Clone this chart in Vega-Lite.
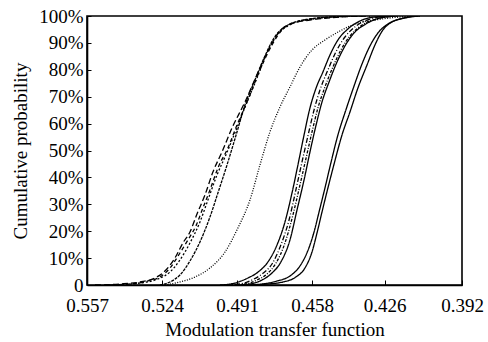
{
  "$schema": "https://vega.github.io/schema/vega-lite/v6.json",
  "width": 375,
  "height": 269,
  "autosize": {"type": "none"},
  "padding": {"left": 87, "top": 16, "right": 26, "bottom": 57},
  "background": "white",
  "config": {
    "view": {"stroke": "black", "strokeWidth": 1.6},
    "font": "Liberation Serif"
  },
  "data": {
    "values": [
      {"c":"A1","x":0.5535,"y":0},{"c":"A1","x":0.5425,"y":0.0037},{"c":"A1","x":0.5337,"y":0.0112},{"c":"A1","x":0.5271,"y":0.026},{"c":"A1","x":0.5227,"y":0.052},{"c":"A1","x":0.5183,"y":0.1004},{"c":"A1","x":0.5148,"y":0.1561},{"c":"A1","x":0.5117,"y":0.197},{"c":"A1","x":0.5086,"y":0.2639},{"c":"A1","x":0.5051,"y":0.3346},{"c":"A1","x":0.5016,"y":0.4201},{"c":"A1","x":0.4976,"y":0.4944},{"c":"A1","x":0.4932,"y":0.5836},{"c":"A1","x":0.4875,"y":0.6803},{"c":"A1","x":0.4817,"y":0.7918},{"c":"A1","x":0.4765,"y":0.8848},{"c":"A1","x":0.4721,"y":0.9442},{"c":"A1","x":0.4664,"y":0.974},{"c":"A1","x":0.4589,"y":0.9851},{"c":"A1","x":0.4457,"y":0.9963},{"c":"A1","x":0.4325,"y":1},
      {"c":"A2","x":0.5491,"y":0},{"c":"A2","x":0.5381,"y":0.0037},{"c":"A2","x":0.5302,"y":0.0149},{"c":"A2","x":0.5249,"y":0.0297},{"c":"A2","x":0.5205,"y":0.0632},{"c":"A2","x":0.5161,"y":0.119},{"c":"A2","x":0.5126,"y":0.1673},{"c":"A2","x":0.5091,"y":0.2193},{"c":"A2","x":0.506,"y":0.2862},{"c":"A2","x":0.5029,"y":0.3532},{"c":"A2","x":0.4994,"y":0.4349},{"c":"A2","x":0.495,"y":0.5093},{"c":"A2","x":0.491,"y":0.5948},{"c":"A2","x":0.4862,"y":0.6877},{"c":"A2","x":0.4809,"y":0.7993},{"c":"A2","x":0.4756,"y":0.8922},{"c":"A2","x":0.4708,"y":0.9517},{"c":"A2","x":0.4646,"y":0.9777},{"c":"A2","x":0.4545,"y":0.9926},{"c":"A2","x":0.4369,"y":1},
      {"c":"A3","x":0.5469,"y":0},{"c":"A3","x":0.5337,"y":0.0074},{"c":"A3","x":0.5258,"y":0.0223},{"c":"A3","x":0.5205,"y":0.0483},{"c":"A3","x":0.5161,"y":0.0929},{"c":"A3","x":0.5117,"y":0.1561},{"c":"A3","x":0.5073,"y":0.2342},{"c":"A3","x":0.5038,"y":0.316},{"c":"A3","x":0.4998,"y":0.4089},{"c":"A3","x":0.4959,"y":0.4833},{"c":"A3","x":0.4914,"y":0.5762},{"c":"A3","x":0.4871,"y":0.6691},{"c":"A3","x":0.4822,"y":0.7695},{"c":"A3","x":0.4782,"y":0.855},{"c":"A3","x":0.4738,"y":0.9257},{"c":"A3","x":0.4686,"y":0.9628},{"c":"A3","x":0.4611,"y":0.9851},{"c":"A3","x":0.4479,"y":0.9963},{"c":"A3","x":0.4347,"y":1},
      {"c":"B","x":0.5249,"y":0},{"c":"B","x":0.5205,"y":0.0112},{"c":"B","x":0.5161,"y":0.0372},{"c":"B","x":0.5117,"y":0.0892},{"c":"B","x":0.5073,"y":0.1599},{"c":"B","x":0.5029,"y":0.2528},{"c":"B","x":0.4994,"y":0.342},{"c":"B","x":0.4954,"y":0.4461},{"c":"B","x":0.4914,"y":0.5576},{"c":"B","x":0.4875,"y":0.6691},{"c":"B","x":0.4831,"y":0.7621},{"c":"B","x":0.4791,"y":0.8439},{"c":"B","x":0.4747,"y":0.9182},{"c":"B","x":0.4686,"y":0.9665},{"c":"B","x":0.4589,"y":0.9888},{"c":"B","x":0.4413,"y":1},
      {"c":"C","x":0.5227,"y":0},{"c":"C","x":0.5161,"y":0.0112},{"c":"C","x":0.5095,"y":0.0297},{"c":"C","x":0.5029,"y":0.0632},{"c":"C","x":0.4963,"y":0.1227},{"c":"C","x":0.4906,"y":0.2119},{"c":"C","x":0.4853,"y":0.316},{"c":"C","x":0.4809,"y":0.4461},{"c":"C","x":0.4765,"y":0.5688},{"c":"C","x":0.4721,"y":0.6617},{"c":"C","x":0.4677,"y":0.7361},{"c":"C","x":0.4633,"y":0.8104},{"c":"C","x":0.458,"y":0.8736},{"c":"C","x":0.4523,"y":0.9108},{"c":"C","x":0.4457,"y":0.9442},{"c":"C","x":0.4391,"y":0.9703},{"c":"C","x":0.4303,"y":0.9851},{"c":"C","x":0.4193,"y":0.9963},{"c":"C","x":0.4105,"y":1},
      {"c":"D1","x":0.4985,"y":0},{"c":"D1","x":0.4919,"y":0.0074},{"c":"D1","x":0.4862,"y":0.026},{"c":"D1","x":0.4817,"y":0.0483},{"c":"D1","x":0.4774,"y":0.0855},{"c":"D1","x":0.4734,"y":0.1487},{"c":"D1","x":0.4699,"y":0.2342},{"c":"D1","x":0.4668,"y":0.342},{"c":"D1","x":0.4642,"y":0.4461},{"c":"D1","x":0.4615,"y":0.5576},{"c":"D1","x":0.4589,"y":0.658},{"c":"D1","x":0.4562,"y":0.7323},{"c":"D1","x":0.4532,"y":0.7918},{"c":"D1","x":0.4501,"y":0.855},{"c":"D1","x":0.4466,"y":0.9108},{"c":"D1","x":0.4422,"y":0.9517},{"c":"D1","x":0.4369,"y":0.9814},{"c":"D1","x":0.4303,"y":0.9963},{"c":"D1","x":0.4215,"y":1},
      {"c":"D2","x":0.4963,"y":0},{"c":"D2","x":0.4897,"y":0.0037},{"c":"D2","x":0.4844,"y":0.0186},{"c":"D2","x":0.48,"y":0.0409},{"c":"D2","x":0.4756,"y":0.0781},{"c":"D2","x":0.4717,"y":0.1487},{"c":"D2","x":0.4681,"y":0.2416},{"c":"D2","x":0.4651,"y":0.3532},{"c":"D2","x":0.4624,"y":0.4572},{"c":"D2","x":0.4597,"y":0.5576},{"c":"D2","x":0.4571,"y":0.6506},{"c":"D2","x":0.4545,"y":0.7249},{"c":"D2","x":0.451,"y":0.7993},{"c":"D2","x":0.4475,"y":0.8662},{"c":"D2","x":0.4435,"y":0.9219},{"c":"D2","x":0.4386,"y":0.9628},{"c":"D2","x":0.4325,"y":0.9888},{"c":"D2","x":0.4237,"y":1},
      {"c":"D3","x":0.4941,"y":0},{"c":"D3","x":0.4875,"y":0.0037},{"c":"D3","x":0.4822,"y":0.0186},{"c":"D3","x":0.4778,"y":0.0409},{"c":"D3","x":0.4738,"y":0.0818},{"c":"D3","x":0.4699,"y":0.1561},{"c":"D3","x":0.4664,"y":0.2602},{"c":"D3","x":0.4633,"y":0.3717},{"c":"D3","x":0.4606,"y":0.4721},{"c":"D3","x":0.458,"y":0.5688},{"c":"D3","x":0.4554,"y":0.658},{"c":"D3","x":0.4523,"y":0.7361},{"c":"D3","x":0.4488,"y":0.8104},{"c":"D3","x":0.4453,"y":0.8736},{"c":"D3","x":0.4413,"y":0.9257},{"c":"D3","x":0.436,"y":0.9665},{"c":"D3","x":0.4294,"y":0.9888},{"c":"D3","x":0.4215,"y":1},
      {"c":"D4","x":0.4919,"y":0},{"c":"D4","x":0.4853,"y":0.0037},{"c":"D4","x":0.48,"y":0.0186},{"c":"D4","x":0.4756,"y":0.0446},{"c":"D4","x":0.4717,"y":0.0855},{"c":"D4","x":0.4677,"y":0.1673},{"c":"D4","x":0.4646,"y":0.2788},{"c":"D4","x":0.4615,"y":0.3903},{"c":"D4","x":0.4589,"y":0.4944},{"c":"D4","x":0.4562,"y":0.5948},{"c":"D4","x":0.4536,"y":0.6803},{"c":"D4","x":0.4505,"y":0.7546},{"c":"D4","x":0.447,"y":0.829},{"c":"D4","x":0.4435,"y":0.8885},{"c":"D4","x":0.4395,"y":0.9368},{"c":"D4","x":0.4343,"y":0.9703},{"c":"D4","x":0.4281,"y":0.9926},{"c":"D4","x":0.4202,"y":1},
      {"c":"E1","x":0.4875,"y":0},{"c":"E1","x":0.48,"y":0.0037},{"c":"E1","x":0.4734,"y":0.0149},{"c":"E1","x":0.4677,"y":0.0335},{"c":"E1","x":0.4633,"y":0.0706},{"c":"E1","x":0.4597,"y":0.1301},{"c":"E1","x":0.4571,"y":0.197},{"c":"E1","x":0.4549,"y":0.2714},{"c":"E1","x":0.4523,"y":0.3606},{"c":"E1","x":0.4497,"y":0.4535},{"c":"E1","x":0.4466,"y":0.5576},{"c":"E1","x":0.4431,"y":0.6506},{"c":"E1","x":0.4395,"y":0.7398},{"c":"E1","x":0.436,"y":0.8216},{"c":"E1","x":0.4325,"y":0.8885},{"c":"E1","x":0.429,"y":0.9368},{"c":"E1","x":0.4246,"y":0.9703},{"c":"E1","x":0.4193,"y":0.9888},{"c":"E1","x":0.4127,"y":1},
      {"c":"E2","x":0.4853,"y":0},{"c":"E2","x":0.4774,"y":0.0037},{"c":"E2","x":0.4708,"y":0.0112},{"c":"E2","x":0.4651,"y":0.0297},{"c":"E2","x":0.4611,"y":0.0632},{"c":"E2","x":0.458,"y":0.1227},{"c":"E2","x":0.4558,"y":0.1933},{"c":"E2","x":0.4536,"y":0.2714},{"c":"E2","x":0.451,"y":0.3606},{"c":"E2","x":0.4484,"y":0.4461},{"c":"E2","x":0.4448,"y":0.5576},{"c":"E2","x":0.4413,"y":0.6431},{"c":"E2","x":0.4378,"y":0.7323},{"c":"E2","x":0.4338,"y":0.8178},{"c":"E2","x":0.4303,"y":0.8922},{"c":"E2","x":0.4268,"y":0.948},{"c":"E2","x":0.4228,"y":0.9777},{"c":"E2","x":0.4171,"y":0.9926},{"c":"E2","x":0.4105,"y":1}
    ]
  },
  "mark": {"type": "line", "interpolate": "monotone", "color": "black", "strokeWidth": 1.3, "clip": true},
  "encoding": {
    "x": {
      "field": "x",
      "type": "quantitative",
      "scale": {"domain": [0.392, 0.557], "reverse": true, "nice": false, "zero": false},
      "axis": {
        "title": "Modulation transfer function",
        "values": [0.557, 0.524, 0.491, 0.458, 0.426, 0.392],
        "format": ".3f",
        "grid": false,
        "domainColor": "black",
        "domainWidth": 1.6,
        "tickColor": "black",
        "tickWidth": 1,
        "tickSize": -5,
        "labelColor": "black",
        "labelFont": "Liberation Serif",
        "labelFontSize": 19,
        "labelPadding": 16,
        "labelFlush": false,
        "labelOverlap": false,
        "titleColor": "black",
        "titleFont": "Liberation Serif",
        "titleFontSize": 19,
        "titleFontWeight": "normal",
        "titlePadding": 5
      }
    },
    "y": {
      "field": "y",
      "type": "quantitative",
      "scale": {"domain": [0, 1], "nice": false},
      "axis": {
        "title": "Cumulative probability",
        "values": [0, 0.1, 0.2, 0.3, 0.4, 0.5, 0.6, 0.7, 0.8, 0.9, 1],
        "labelExpr": "datum.value == 0 ? '0' : format(datum.value, '.0%')",
        "grid": false,
        "domainColor": "black",
        "domainWidth": 1.6,
        "tickColor": "black",
        "tickWidth": 1,
        "tickSize": -4,
        "labelColor": "black",
        "labelFont": "Liberation Serif",
        "labelFontSize": 19,
        "labelPadding": 8,
        "labelFlush": false,
        "labelOverlap": false,
        "titleColor": "black",
        "titleFont": "Liberation Serif",
        "titleFontSize": 19,
        "titleFontWeight": "normal",
        "titlePadding": 8
      }
    },
    "detail": {"field": "c"},
    "strokeDash": {
      "field": "c",
      "type": "nominal",
      "legend": null,
      "scale": {
        "domain": ["A1", "A2", "A3", "B", "C", "D1", "D2", "D3", "D4", "E1", "E2"],
        "range": [[6, 3], [4, 3], [2, 2], [3, 1], [1, 1.5], [1, 0], [5, 2, 1, 2], [3, 1.5, 1, 1.5], [1, 0], [1, 0], [1, 0]]
      }
    }
  }
}
